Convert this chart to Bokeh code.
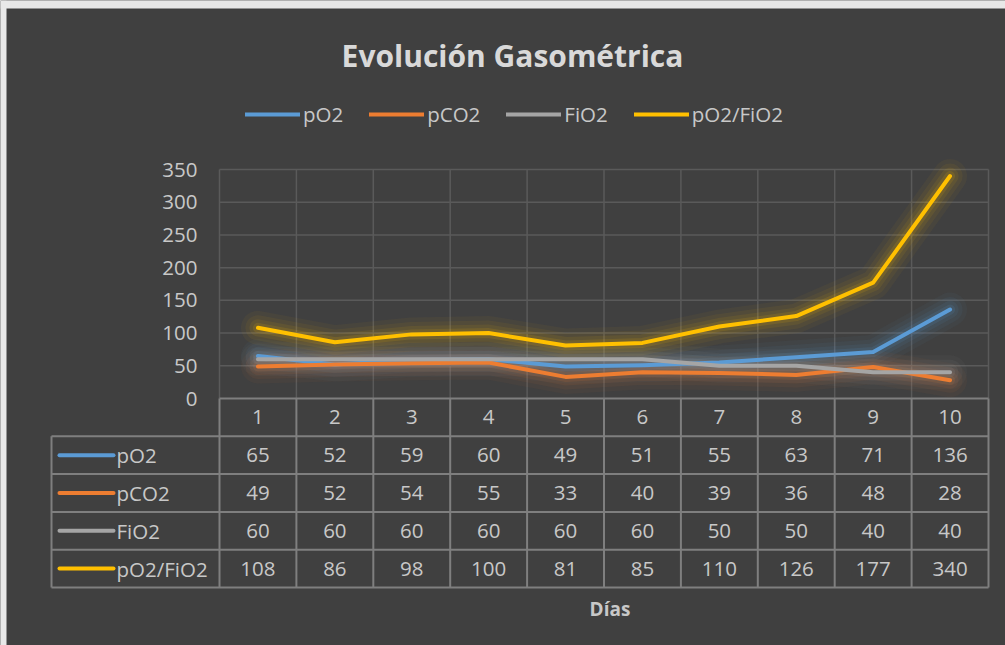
from bokeh.plotting import figure
from bokeh.models import Range1d, Label, Legend, LegendItem, BoxAnnotation
from bokeh.core.properties import value
from bokeh.embed import file_html
from bokeh.resources import INLINE

# ---------------- data ----------------
days = [1, 2, 3, 4, 5, 6, 7, 8, 9, 10]
series_names = ["pO2", "pCO2", "FiO2", "pO2/FiO2"]
po2 = [65, 52, 59, 60, 49, 51, 55, 63, 71, 136]
pco2 = [49, 52, 54, 55, 33, 40, 39, 36, 48, 28]
fio2 = [60, 60, 60, 60, 60, 60, 50, 50, 40, 40]
ratio = [108, 86, 98, 100, 81, 85, 110, 126, 177, 340]
y_ticks = [0, 50, 100, 150, 200, 250, 300, 350]
title_text = "Evolución Gasométrica"
x_title = "Días"

colors = ["#5B9BD5", "#ED7D31", "#A5A5A5", "#FFC000"]
all_series = [po2, pco2, fio2, ratio]

# ---------------- layout (pixels on canvas) ----------------
W, H = 1005, 645
PL, PR = 219, 988          # plot area left/right
PT, PB = 169, 398          # plot area top (350) / bottom (0)
ROW_PX = 37.8
TABLE_L = 51
BG = "#404040"
GRID = "#5A5A5A"
BORDER = "#7F7F7F"
TXT = "#C8C8C8"
FONT = "Open Sans"
FS = "20.5px"

kx = (PR - PL) / 10.0
ky = (PB - PT) / 350.0
x0 = 0.5 - PL / kx
x1 = 10.5 + (W - PR) / kx
y1 = 350 + PT / ky
y0 = -(H - PB) / ky
R = ROW_PX / ky
xl = x0 + TABLE_L / kx

p = figure(width=W, height=H, x_range=Range1d(x0, x1), y_range=Range1d(y0, y1),
           output_backend="svg", toolbar_location=None, title=None,
           x_axis_location=None, y_axis_location=None, min_border=0)
p.background_fill_color = BG
p.border_fill_color = BG
p.outline_line_color = None
p.xgrid.visible = False
p.ygrid.visible = False

# light surroundings of the chart area (top and left edges)
p.add_layout(BoxAnnotation(left=0, right=W, top=H, bottom=H - 8, left_units="screen",
                           right_units="screen", top_units="screen", bottom_units="screen",
                           fill_color="#E8E8E8", fill_alpha=1, line_color=None, level="underlay"))
p.add_layout(BoxAnnotation(left=0, right=6, top=H, bottom=0, left_units="screen",
                           right_units="screen", top_units="screen", bottom_units="screen",
                           fill_color="#E8E8E8", fill_alpha=1, line_color=None, level="underlay"))

# gridlines
gy = [t for t in y_ticks if t > 0]
p.segment(x0=[0.5] * len(gy), x1=[10.5] * len(gy), y0=gy, y1=gy, line_color=GRID, line_width=1.5)
gx = [d - 0.5 for d in days] + [10.5]
p.segment(x0=gx, x1=gx, y0=[0] * len(gx), y1=[350] * len(gx), line_color=GRID, line_width=1.5)

# y tick labels
p.text(x=[0.5 - 22 / kx] * len(y_ticks), y=y_ticks, text=[str(t) for t in y_ticks],
       text_align="right", text_baseline="middle", text_color=TXT,
       text_font=value(FONT), text_font_size=FS)

# glows
for s, c in zip(all_series, colors):
    for w, a in [(34, 0.045), (25, 0.06), (17, 0.08), (10, 0.12)]:
        p.line(days, s, line_color=c, line_width=w, line_alpha=a, line_join="round", line_cap="round")

# lines
renderers = []
for s, c in zip(all_series, colors):
    r = p.line(days, s, line_color=c, line_width=4, line_join="round", line_cap="round")
    renderers.append(r)

# ---------------- data table ----------------
hy = [0] + [-(k + 1) * R for k in range(5)]
hx0 = [0.5] + [xl] * 5
p.segment(x0=hx0, x1=[10.5] * 6, y0=hy, y1=hy, line_color=BORDER, line_width=2)
p.segment(x0=gx, x1=gx, y0=[0] * len(gx), y1=[-5 * R] * len(gx), line_color=BORDER, line_width=2)
p.segment(x0=[xl], x1=[xl], y0=[-R], y1=[-5 * R], line_color=BORDER, line_width=2)

p.text(x=days, y=[-0.5 * R] * 10, text=[str(d) for d in days], text_align="center",
       text_baseline="middle", text_color=TXT, text_font=value(FONT), text_font_size=FS)

for k, (s, c, n) in enumerate(zip(all_series, colors, series_names)):
    yc = -(k + 1.5) * R
    p.text(x=days, y=[yc] * 10, text=[str(v) for v in s], text_align="center",
           text_baseline="middle", text_color=TXT, text_font=value(FONT), text_font_size=FS)
    p.segment(x0=[xl + 8 / kx], x1=[xl + 62 / kx], y0=[yc], y1=[yc], line_color=c,
              line_width=4, line_cap="round")
    p.text(x=[xl + 65 / kx], y=[yc], text=[n], text_align="left", text_baseline="middle",
           text_color=TXT, text_font=value(FONT), text_font_size=FS)

# axis title
p.add_layout(Label(x=5.5 + 6 / kx, y=-5 * R - 21 / ky, text=x_title, text_align="center",
                   text_baseline="middle", text_color=TXT, text_font=FONT,
                   text_font_size="19px", text_font_style="bold"))

# chart title
p.add_layout(Label(x=x0 + 512 / kx, y=y1 - 55 / ky, text=title_text, text_align="center",
                   text_baseline="middle", text_color="#D9D9D9", text_font=FONT,
                   text_font_size="30px", text_font_style="bold"))

# legend
legend = Legend(items=[LegendItem(label=n, renderers=[r]) for n, r in zip(series_names, renderers)],
                orientation="horizontal", location=(245, H - 128), padding=0, margin=0,
                spacing=26, glyph_width=55, glyph_height=22, label_standoff=3,
                label_text_color=TXT, label_text_font=FONT, label_text_font_size=FS,
                background_fill_alpha=0, border_line_color=None)
p.add_layout(legend)

open("out.html", "w").write(file_html(p, INLINE))
